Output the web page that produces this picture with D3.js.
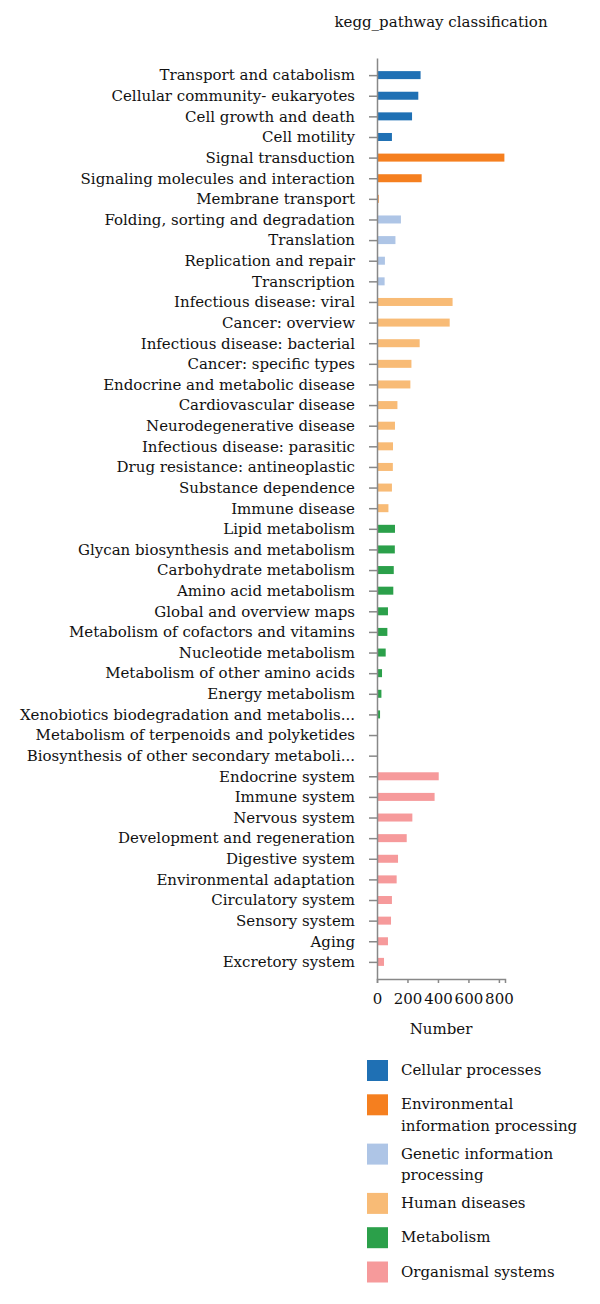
<!DOCTYPE html>
<html>
<head>
<meta charset="UTF-8">
<title>kegg_pathway classification</title>
<script src="https://cdn.jsdelivr.net/npm/d3@7"></script>
<style>
* { margin: 0; padding: 0; }
body { background: #fff; }
#chart { display: block; }
text { font-family: "DejaVu Serif", serif; fill: #111; }
</style>
</head>
<body>
<svg id="chart"></svg>
<script>
// pathway names, top to bottom
const pathways = [
  "Transport and catabolism", "Cellular community- eukaryotes", "Cell growth and death", "Cell motility",
  "Signal transduction", "Signaling molecules and interaction", "Membrane transport",
  "Folding, sorting and degradation", "Translation", "Replication and repair", "Transcription",
  "Infectious disease: viral", "Cancer: overview", "Infectious disease: bacterial", "Cancer: specific types",
  "Endocrine and metabolic disease", "Cardiovascular disease", "Neurodegenerative disease",
  "Infectious disease: parasitic", "Drug resistance: antineoplastic", "Substance dependence", "Immune disease",
  "Lipid metabolism", "Glycan biosynthesis and metabolism", "Carbohydrate metabolism", "Amino acid metabolism",
  "Global and overview maps", "Metabolism of cofactors and vitamins", "Nucleotide metabolism",
  "Metabolism of other amino acids", "Energy metabolism", "Xenobiotics biodegradation and metabolis...",
  "Metabolism of terpenoids and polyketides", "Biosynthesis of other secondary metaboli...",
  "Endocrine system", "Immune system", "Nervous system", "Development and regeneration",
  "Digestive system", "Environmental adaptation", "Circulatory system", "Sensory system",
  "Aging", "Excretory system"
];
const numbers = [
  286, 271, 230, 98,
  836, 293, 11,
  157, 121, 52, 50,
  496, 477, 280, 226, 219, 134, 118, 105, 104, 98, 75,
  118, 117, 110, 107, 72, 68, 57, 33, 29, 20, 0, 0,
  405, 378, 232, 195, 138, 129, 98, 92, 72, 46
];
// class index for each pathway
const classOf = [
  0, 0, 0, 0,
  1, 1, 1,
  2, 2, 2, 2,
  3, 3, 3, 3, 3, 3, 3, 3, 3, 3, 3,
  4, 4, 4, 4, 4, 4, 4, 4, 4, 4, 4, 4,
  5, 5, 5, 5, 5, 5, 5, 5, 5, 5
];
const classes = ["Cellular processes", "Environmental information processing", "Genetic information processing",
  "Human diseases", "Metabolism", "Organismal systems"];
const colors = ["#1f70b4", "#f57f1f", "#aec5e6", "#f8bb76", "#2ba04a", "#f69a9b"];
const xTicks = [0, 200, 400, 600, 800];

const W = 600, H = 1304;
const svg = d3.select("#chart").attr("width", W).attr("height", H);

const x = d3.scaleLinear().domain([0, 840]).range([377, 505]);
const y = d3.scalePoint().domain(pathways).range([58, 979]).padding(0.83);
const color = d3.scaleOrdinal().domain(d3.range(classes.length)).range(colors);

svg.append("text")
  .attr("x", (x.range()[0] + x.range()[1]) / 2).attr("y", 27)
  .attr("text-anchor", "middle").style("font-size", "15px")
  .text("kegg_pathway classification");

// bars
svg.append("g").selectAll("rect")
  .data(pathways)
  .join("rect")
  .attr("x", x(0))
  .attr("y", d => y(d) - 4)
  .attr("width", (d, i) => x(numbers[i]) - x(0))
  .attr("height", 8)
  .attr("fill", (d, i) => color(classOf[i]));

// y axis
const yAxis = svg.append("g")
  .attr("transform", `translate(${x(0)},0)`)
  .call(d3.axisLeft(y).tickSize(8).tickSizeOuter(0).tickPadding(14));
yAxis.selectAll("text").style("font-size", "15px").style("fill", "#111");
yAxis.selectAll("line").attr("stroke", "#888").attr("stroke-width", 1.5);
yAxis.select(".domain").attr("stroke", "#888").attr("stroke-width", 1.5);

// x axis
const xAxis = svg.append("g")
  .attr("transform", "translate(0,979)")
  .call(d3.axisBottom(x).tickValues(xTicks).tickSize(4).tickSizeOuter(4).tickPadding(10));
xAxis.selectAll("text").style("font-size", "15px").style("fill", "#111");
xAxis.selectAll("line").attr("stroke", "#888").attr("stroke-width", 1.5);
xAxis.select(".domain").attr("stroke", "#888").attr("stroke-width", 1.5);

svg.append("text")
  .attr("x", (x.range()[0] + x.range()[1]) / 2).attr("y", 1034)
  .attr("text-anchor", "middle").style("font-size", "15px")
  .text("Number");

// legend
const legend = svg.append("g");
let ly = 1060;
classes.forEach((c, i) => {
  const g = legend.append("g").attr("transform", `translate(367,${ly})`);
  g.append("rect").attr("width", 21).attr("height", 21).attr("fill", colors[i]);
  const t = g.append("text").attr("x", 34).attr("y", 15).style("font-size", "15px");
  // greedy wrap
  const words = c.split(" ");
  let line = [], lines = 0;
  let ts = t.append("tspan").attr("x", 34).attr("dy", 0);
  words.forEach(w => {
    line.push(w);
    ts.text(line.join(" "));
    if (ts.node().getComputedTextLength() > 186 && line.length > 1) {
      line.pop();
      ts.text(line.join(" "));
      line = [w];
      lines++;
      ts = t.append("tspan").attr("x", 34).attr("dy", 21.5).text(w);
    }
  });
  ly += 34.3 + lines * 15;
});
</script>
</body>
</html>
